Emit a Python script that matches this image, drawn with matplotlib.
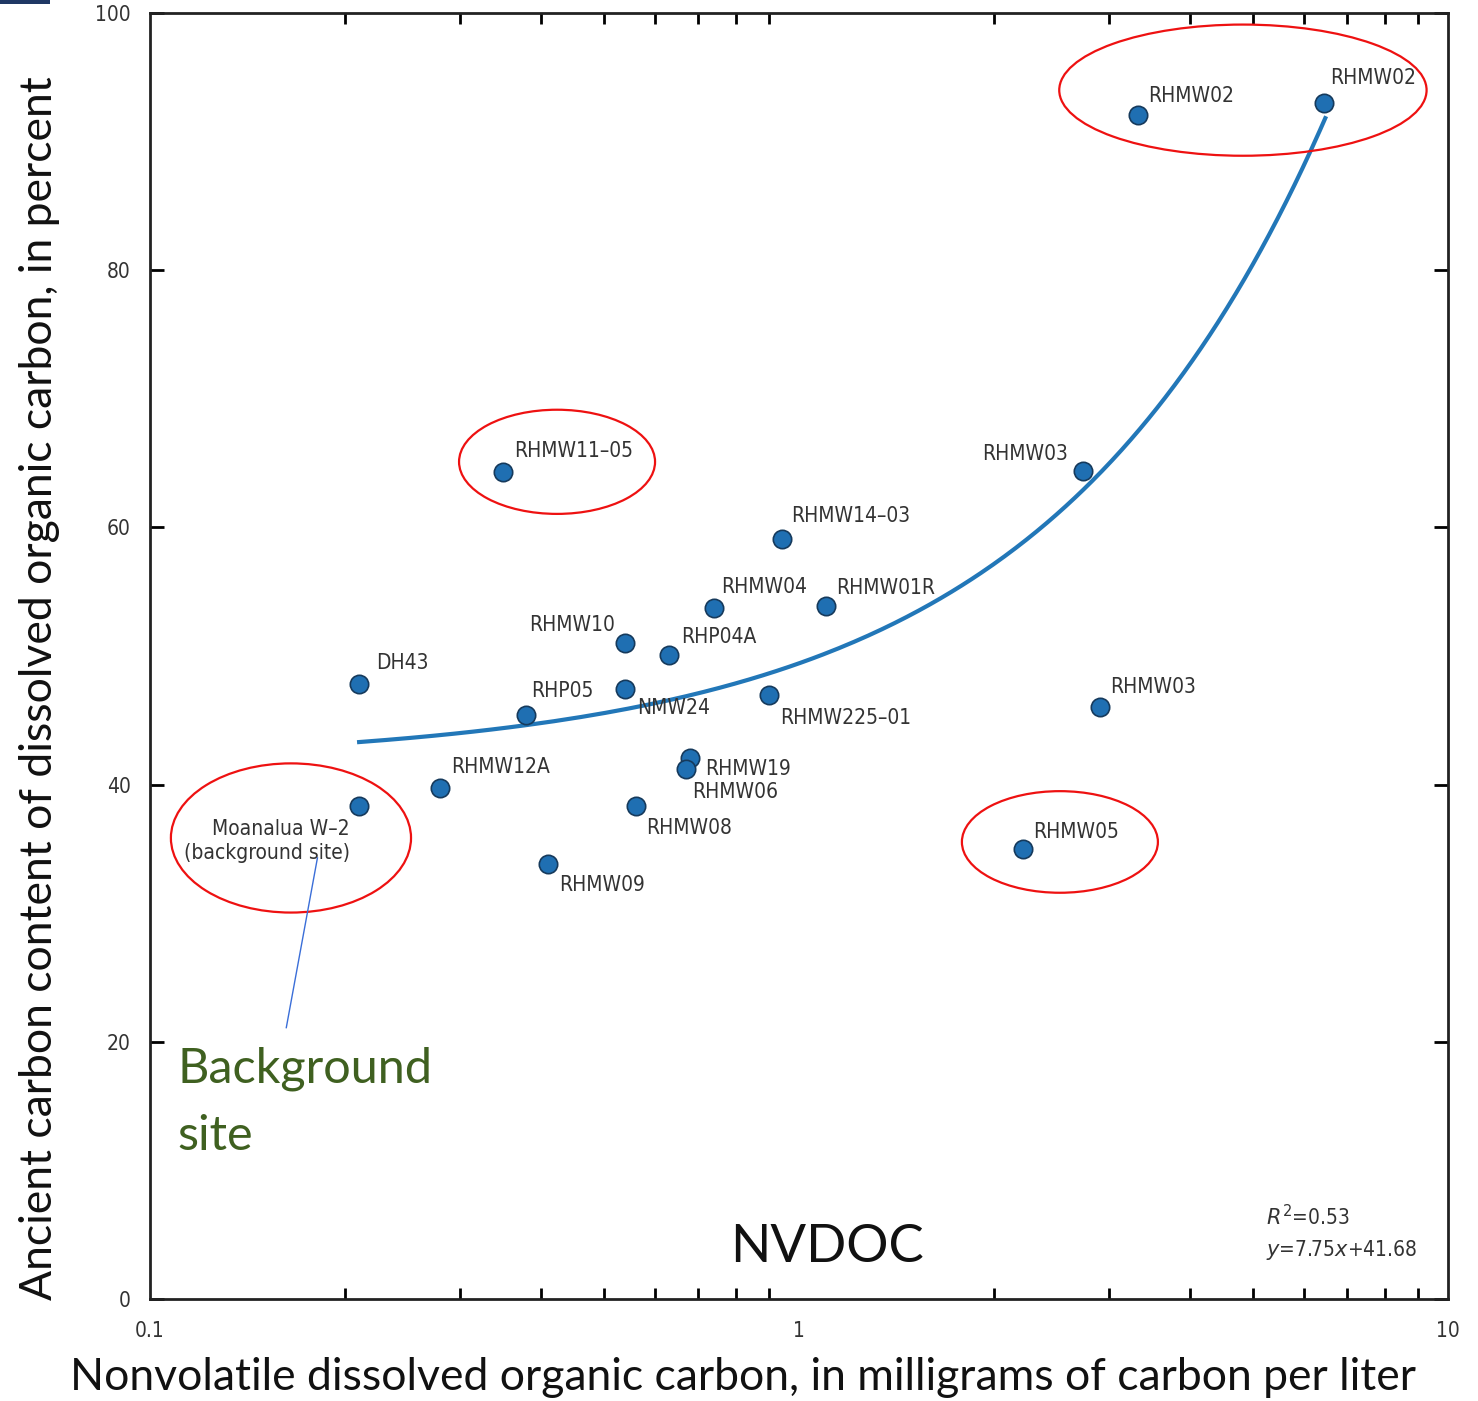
import numpy as np
import matplotlib.pyplot as plt
from matplotlib.patches import Ellipse
from matplotlib.ticker import FixedLocator, NullFormatter

# Datos
sitios = ['RHMW02', 'RHMW02', 'RHMW11–05', 'RHMW03', 'RHMW14–03', 'RHMW04',
          'RHMW01R', 'RHMW10', 'RHP04A', 'DH43', 'RHP05', 'NMW24',
          'RHMW225–01', 'RHMW03', 'RHMW19', 'RHMW06', 'RHMW12A',
          'Moanalua W–2\n(background site)', 'RHMW08', 'RHMW09', 'RHMW05']
nvdoc = [3.33, 6.44, 0.35, 2.74, 0.94, 0.74, 1.10, 0.54, 0.63, 0.21, 0.38,
         0.54, 0.90, 2.91, 0.68, 0.67, 0.28, 0.21, 0.56, 0.41, 2.21]
antiguo = [92.1, 93.0, 64.3, 64.4, 59.1, 53.7, 53.9, 51.0, 50.1, 47.8, 45.4,
           47.4, 47.0, 46.0, 42.1, 41.2, 39.7, 38.3, 38.3, 33.8, 35.0]

# Recta de ajuste y = 7.75x + 41.68
pendiente = 7.75
ordenada = 41.68
ajuste_xmin, ajuste_xmax = 0.21, 6.47

y_ticks = [0, 20, 40, 60, 80, 100]
x_ticks = [0.1, 1, 10]
x_tick_labels = ['0.1', '1', '10']

# Desplazamientos de etiquetas (px) y alineación
offsets = [(10, 19, 'left'), (6, 25, 'left'), (11, 21, 'left'), (-15, 17, 'right'),
           (10, 23, 'left'), (7, 21, 'left'), (10, 18, 'left'), (-10, 18, 'right'),
           (12, 18, 'left'), (17, 21, 'left'), (5, 24, 'left'), (12, -19, 'left'),
           (11, -23, 'left'), (10, 20, 'left'), (15, -11, 'left'), (6, -23, 'left'),
           (11, 21, 'left'), (-9, -35, 'right'), (11, -22, 'left'), (11, -21, 'left'),
           (11, 17, 'left')]

colors = {'punto': '#1f6fb2', 'borde': '#163a5c', 'curva': '#2277b8',
          'texto': '#333333', 'rojo': '#ee1111', 'verde': '#3f6020'}
fuente_graf = ['DejaVu Sans']
fuente_pres = ['Lato', 'DejaVu Sans']

fig = plt.figure(figsize=(14.78, 14.01), dpi=100)
ax = fig.add_axes([150 / 1478, 102 / 1401, 1298 / 1478, 1286 / 1401])
ax.set_xscale('log')
ax.set_xlim(0.1, 10)
ax.set_ylim(0, 100)

# Curva de ajuste
xf = np.linspace(ajuste_xmin, ajuste_xmax, 300)
ax.plot(xf, pendiente * xf + ordenada, color=colors['curva'], linewidth=3, zorder=2)

# Puntos
ax.scatter(nvdoc, antiguo, s=175, color=colors['punto'], edgecolor=colors['borde'],
           linewidth=1.2, zorder=3)

for nombre, x, y, (dx, dy, ha) in zip(sitios, nvdoc, antiguo, offsets):
    ax.annotate(nombre, (x, y), xytext=(dx * 0.72, dy * 0.72), textcoords='offset points',
                ha=ha, va='center', multialignment='right', fontsize=15, stretch='condensed',
                color=colors['texto'], family=fuente_graf, linespacing=1.25, zorder=4)

# Elipses rojas (coordenadas de ejes)
for cx, cy, w, h in [(0.842, 0.940, 0.283, 0.102), (0.3136, 0.651, 0.151, 0.081),
                     (0.1086, 0.3585, 0.185, 0.116), (0.701, 0.3554, 0.151, 0.079)]:
    ax.add_patch(Ellipse((cx, cy), w, h, transform=ax.transAxes, fill=False,
                         edgecolor=colors['rojo'], linewidth=1.6, zorder=5))

ax.plot([0.129, 0.105], [0.343, 0.211], transform=ax.transAxes, color='#3a6ed8',
        linewidth=1.0, zorder=5)

ax.text(0.021, 0.153, 'Background\nsite', transform=ax.transAxes, fontsize=35,
        color=colors['verde'], family=fuente_pres, va='center', ha='left', linespacing=1.65)
ax.text(0.5216, 0.0397, 'NVDOC', transform=ax.transAxes, fontsize=38, color='#111111',
        family=fuente_pres, ha='center', va='center')

ax.text(0.86, 0.064, r'$R^2$=0.53', transform=ax.transAxes, fontsize=15, stretch='condensed',
        color=colors['texto'], family=fuente_graf, ha='left', va='center')
ax.text(0.86, 0.038, r'$y$=7.75$x$+41.68', transform=ax.transAxes, fontsize=15,
        stretch='condensed', color=colors['texto'], family=fuente_graf, ha='left', va='center')

# Ejes y marcas
for lado in ax.spines.values():
    lado.set_linewidth(2)
    lado.set_color('#222222')
ax.set_yticks(y_ticks)
ax.set_yticklabels([str(v) for v in y_ticks], family=fuente_graf, fontsize=15,
                   stretch='condensed', color=colors['texto'])
ax.xaxis.set_major_locator(FixedLocator(x_ticks))
ax.set_xticklabels(x_tick_labels, family=fuente_graf, fontsize=15, stretch='condensed',
                   color=colors['texto'])
menores = [m * d for d in (0.1, 1) for m in range(2, 10)]
ax.xaxis.set_minor_locator(FixedLocator(menores))
ax.xaxis.set_minor_formatter(NullFormatter())
ax.tick_params(axis='both', which='both', direction='in', top=True, right=True, width=2)
ax.tick_params(axis='y', which='major', length=10, pad=14)
ax.tick_params(axis='x', which='major', length=0, pad=16)
ax.tick_params(axis='x', which='minor', length=8)

fig.text(743 / 1478, 1 - 1378 / 1401, 'Nonvolatile dissolved organic carbon, in milligrams of carbon per liter',
         fontsize=32, family=fuente_pres, ha='center', va='center', color='#111111')
fig.text(40 / 1478, 1 - 688 / 1401, 'Ancient carbon content of dissolved organic carbon, in percent',
         fontsize=32, family=fuente_pres, ha='center', va='center', rotation=90, color='#111111')

# Barra azul de la esquina
fig.add_artist(plt.Rectangle((0, 1 - 4 / 1401), 50 / 1478, 4 / 1401, transform=fig.transFigure,
                             color='#1f3864', lw=0))

fig.savefig('out.png', dpi=100)
